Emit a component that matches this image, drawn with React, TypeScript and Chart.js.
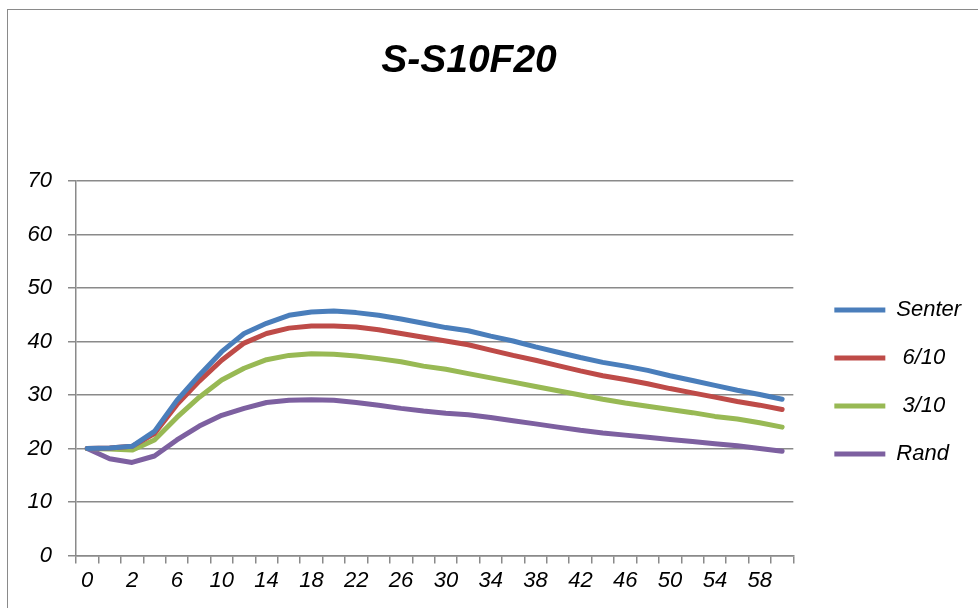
import React, { useEffect, useRef } from "react";
import { Chart, registerables } from "chart.js";

Chart.register(...registerables);

const TITLE = "S-S10F20";
const CATEGORIES = [0, 1, 2, 4, 6, 8, 10, 12, 14, 16, 18, 20, 22, 24, 26, 28, 30, 32, 34, 36, 38, 40, 42, 44, 46, 48, 50, 52, 54, 56, 58, 60];
const SERIES_NAMES = ["Senter", " 6/10", " 3/10", "Rand"];
const SENTER = [20, 20.1, 20.4, 23.2, 29.0, 33.7, 38.1, 41.5, 43.4, 44.9, 45.5, 45.7, 45.4, 44.9, 44.2, 43.4, 42.6, 42.0, 41.0, 40.1, 39.0, 38.0, 37.0, 36.1, 35.4, 34.6, 33.6, 32.7, 31.8, 30.9, 30.1, 29.2];
const S6_10 = [20, 20.1, 20.4, 22.8, 28.2, 32.6, 36.5, 39.7, 41.5, 42.5, 42.9, 42.9, 42.7, 42.2, 41.5, 40.8, 40.1, 39.4, 38.4, 37.4, 36.5, 35.5, 34.5, 33.6, 32.9, 32.1, 31.2, 30.4, 29.6, 28.8, 28.1, 27.3];
const S3_10 = [20, 19.9, 19.7, 21.6, 25.8, 29.6, 32.8, 35.0, 36.6, 37.4, 37.7, 37.6, 37.3, 36.8, 36.2, 35.4, 34.8, 34.0, 33.2, 32.4, 31.6, 30.8, 30.0, 29.2, 28.5, 27.9, 27.3, 26.7, 26.0, 25.5, 24.8, 24.0];
const RAND = [20, 18.1, 17.4, 18.6, 21.6, 24.2, 26.2, 27.5, 28.6, 29.0, 29.1, 29.0, 28.6, 28.1, 27.5, 27.0, 26.6, 26.3, 25.8, 25.2, 24.6, 24.0, 23.4, 22.9, 22.5, 22.1, 21.7, 21.3, 20.9, 20.5, 20.0, 19.5];
const COLORS = ["#4A7EBB", "#BE4B48", "#98B954", "#7D60A0"];
const Y_MIN = 0;
const Y_MAX = 70;
const Y_STEP = 10;

const FONT_FAMILY = '"Liberation Sans", Arial, sans-serif';
const GRID_COLOR = "#8a8a8a";

const titlePlugin = {
  id: "excelTitle",
  afterDraw(chart: any) {
    const ctx = chart.ctx;
    ctx.save();
    ctx.font = `italic bold 39px ${FONT_FAMILY}`;
    ctx.fillStyle = "#000";
    ctx.textAlign = "center";
    ctx.textBaseline = "alphabetic";
    ctx.fillText(TITLE, 469, 72);
    ctx.restore();
  },
};

export default function App() {
  const canvasRef = useRef<HTMLCanvasElement | null>(null);

  useEffect(() => {
    if (!canvasRef.current) return;
    const all = [SENTER, S6_10, S3_10, RAND];
    const chart = new Chart(canvasRef.current, {
      type: "line",
      data: {
        labels: CATEGORIES.map(String),
        datasets: all.map((d, i) => ({
          label: SERIES_NAMES[i],
          data: d,
          borderColor: COLORS[i],
          backgroundColor: COLORS[i],
          borderWidth: 5,
          pointRadius: 0,
          pointHoverRadius: 0,
          tension: 0,
          borderCapStyle: "round",
          borderJoinStyle: "round",
          pointStyle: "line",
          fill: false,
        })),
      },
      options: {
        animation: false,
        responsive: false,
        maintainAspectRatio: false,
        layout: { padding: { top: 181, left: 0, right: 8, bottom: 0 } },
        plugins: {
          title: { display: false },
          tooltip: { enabled: false },
          legend: {
            display: true,
            position: "right",
            align: "center",
            fullSize: false,
            title: {
              display: true,
              text: "",
              font: { size: 10, lineHeight: 1 },
              padding: { top: 17.5, bottom: 0 },
            },
            labels: {
              usePointStyle: true,
              pointStyleWidth: 51,
              padding: 26,
              color: "#000",
              font: { family: FONT_FAMILY, size: 22, style: "italic" },
            },
          },
        },
        scales: {
          x: {
            type: "category",
            offset: true,
            grid: {
              display: true,
              offset: true,
              drawOnChartArea: false,
              drawTicks: true,
              tickLength: 8,
              color: GRID_COLOR,
              lineWidth: 1.5,
            },
            border: { display: true, color: GRID_COLOR, width: 1.5 },
            ticks: {
              autoSkip: false,
              maxRotation: 0,
              minRotation: 0,
              padding: 4,
              color: "#000",
              font: { family: FONT_FAMILY, size: 22, style: "italic" },
              callback: (_v: any, i: number) => (i % 2 === 0 ? String(CATEGORIES[i]) : ""),
            },
            afterFit: (s: any) => {
              s.height = 52.5;
            },
          },
          y: {
            type: "linear",
            min: Y_MIN,
            max: Y_MAX,
            grid: {
              display: true,
              drawTicks: true,
              tickLength: 8,
              color: GRID_COLOR,
              lineWidth: 1.5,
            },
            border: { display: true, color: GRID_COLOR, width: 1.5 },
            ticks: {
              stepSize: Y_STEP,
              padding: 16,
              color: "#000",
              font: { family: FONT_FAMILY, size: 22, style: "italic" },
            },
            afterFit: (s: any) => {
              s.width = 76;
            },
          },
          spacer: {
            type: "linear",
            position: "right",
            display: true,
            grid: { display: false, drawTicks: false },
            border: { display: false },
            ticks: { display: false },
            afterFit: (s: any) => {
              s.width = 15;
            },
          },
        },
      },
      plugins: [titlePlugin],
    });
    return () => chart.destroy();
  }, []);

  return (
    <div style={{ position: "fixed", left: 0, top: 0, width: 978, height: 608, background: "#fff", overflow: "hidden" }}>
      <div
        style={{
          position: "absolute",
          left: 7,
          top: 9,
          width: 1000,
          height: 700,
          borderLeft: "1.5px solid #8a8a8a",
          borderTop: "1.5px solid #8a8a8a",
        }}
      />
      <canvas ref={canvasRef} width={978} height={608} style={{ position: "absolute", left: 0, top: 0, width: 978, height: 608 }} />
    </div>
  );
}
